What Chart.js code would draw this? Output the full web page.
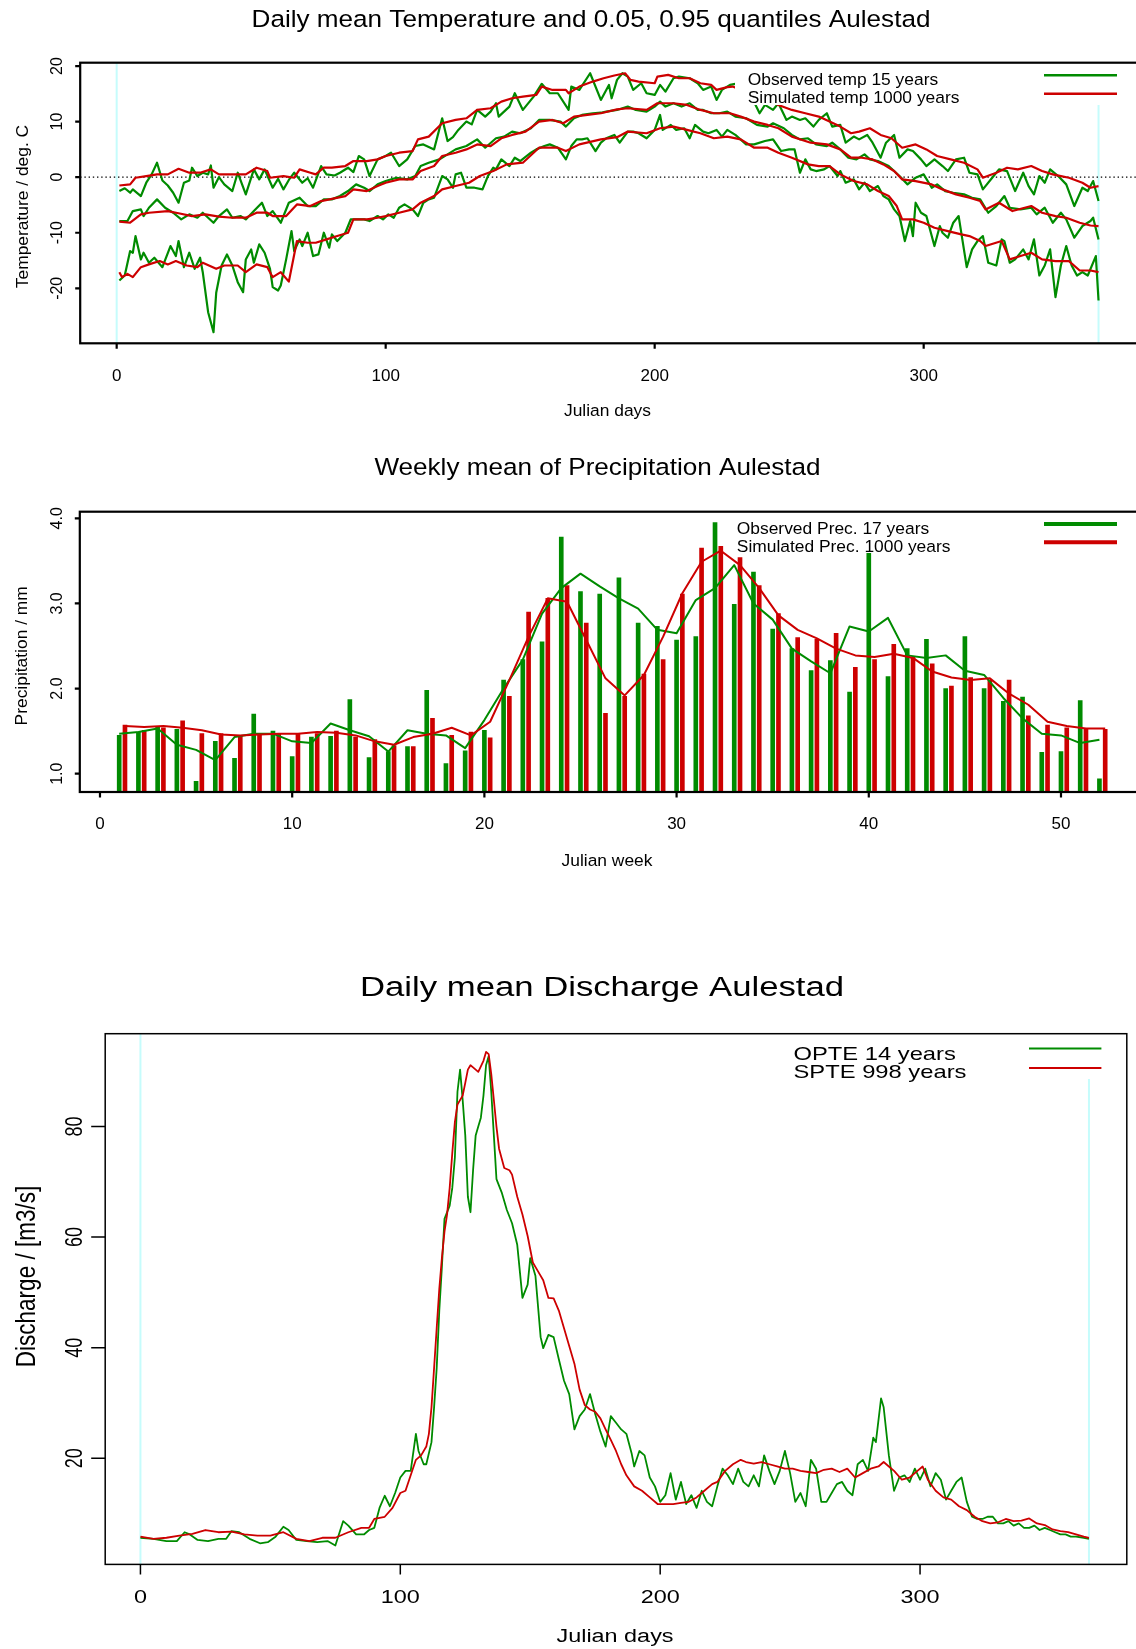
<!DOCTYPE html>
<html>
<head>
<meta charset="utf-8">
<script src="https://cdn.jsdelivr.net/npm/chart.js@4.4.1/dist/chart.umd.min.js"></script>
<style>
  html, body { margin: 0; padding: 0; background: #fff; }
  body { width: 1136px; height: 1649px; position: relative; overflow: hidden; }
  canvas { position: absolute; left: 0; }
</style>
</head>
<body>
<canvas id="temp" width="1200" height="440" style="top:0px"></canvas>
<canvas id="prec" width="1200" height="440" style="top:440px"></canvas>
<canvas id="disc" width="1136" height="769" style="top:880px"></canvas>
<script>
// ---- temperature, [julian day, deg C] ----
const obsHigh = [[1,-2.5],[3,-2],[5,-2.8],[6,-2.2],[9,-3.4],[11,-1],[13,0.5],[15,2.6],[17,-0.6],[19,-1.5],[21,-2.8],[23,-4.6],[25,-1],[27,-0.6],[28,1.7],[30,0.2],[32,0.8],[34,0.5],[35,2.1],[36,-1.9],[38,0],[40,-1.3],[43,-2.5],[45,0.8],[48,-3.1],[51,1.4],[53,-0.4],[55,1.4],[58,-1.9],[60,-0.3],[62,-2.2],[64,-0.5],[66,0.8],[69,-1],[71,-0.2],[73,-1.9],[76,2],[78,0.5],[81,0.3],[83,0.8],[86,1.7],[88,0.9],[90,3.8],[92,3.2],[94,0.2],[97,3.2],[100,3.8],[102,4.4],[105,2],[108,3.2],[111,5.6],[114,5.9],[118,5],[121,10.6],[123,6.5],[125,7.2],[127,8.5],[130,10],[132,9.5],[134,12.1],[137,10.9],[139,11.8],[141,13.3],[142,10.9],[146,12.7],[148,15.1],[151,12.1],[155,14.5],[158,16.8],[161,15.1],[164,15.1],[168,12.1],[169,16.3],[172,15.7],[176,18.7],[180,13.9],[183,16.6],[184,14.2],[186,17.5],[188,18.7],[190,18.1],[192,15.7],[195,16.9],[197,15.1],[200,14.8],[202,16.6],[204,15.4],[207,17.8],[209,18.1],[213,17.8],[216,16.9],[218,15.7],[221,16.3],[223,13.9],[225,15.7],[228,16.6],[230,16.8],[232,15.5],[235,14.2],[237,13.5],[239,11.5],[241,13],[244,12.1],[246,13.3],[249,10.3],[251,10.9],[254,10.3],[256,10.6],[259,9.1],[261,10.3],[264,11.5],[266,9.1],[269,9.4],[271,6.2],[274,7.3],[276,6.8],[279,7.6],[281,6.2],[284,3.5],[286,6.2],[289,7.6],[291,3.5],[294,5],[296,4.7],[299,3.2],[301,2],[304,3.2],[307,2],[309,1.1],[312,3.2],[315,3.5],[317,0.8],[320,0.5],[322,-2.2],[326,0.2],[328,1.4],[331,1.1],[334,-2.5],[337,0.8],[339,-1.6],[341,-3.1],[343,0.2],[345,-1],[347,1.4],[350,0.2],[353,-1.3],[356,-5.2],[359,-1.9],[361,-2.5],[363,-0.7],[365,-4.3]];
const simHigh = [[1,-1.5],[5,-1.3],[7,-0.1],[11,0.2],[15,0.5],[19,0.5],[23,1.5],[27,0.8],[31,0.8],[35,1.4],[38,0.5],[43,0.5],[48,0.5],[52,1.7],[56,1.1],[57,-0.1],[62,0.2],[66,-0.1],[68,1.4],[72,0.8],[74,0.5],[77,1.7],[80,1.7],[85,2],[88,2.9],[93,2.9],[97,3.2],[100,3.8],[105,4.4],[110,4.7],[112,6.8],[116,7.3],[121,9.7],[126,10.3],[130,10.6],[134,12.1],[139,12.4],[143,13.6],[147,14.2],[151,14.5],[156,14.8],[158,16.3],[162,15.7],[167,15.7],[168,15.1],[172,16.3],[177,17.2],[181,17.8],[185,18.3],[189,18.7],[191,17.5],[194,17.2],[200,16.9],[201,18.1],[205,18.4],[209,17.8],[213,17.8],[217,16.9],[221,16.6],[223,15.7],[227,16.2],[229,16.3],[233,15.5],[238,14.5],[242,13.8],[246,13],[251,12.1],[256,11.5],[261,10.9],[265,10],[269,9.1],[273,7.9],[276,8.2],[280,8.8],[284,7.6],[288,7],[292,5.3],[297,5.9],[301,5],[305,3.8],[310,3.2],[315,2.6],[320,1.4],[322,-0.1],[327,0.8],[331,1.7],[335,1.4],[340,2],[344,1.1],[348,0.5],[351,0.2],[354,-0.1],[359,-1],[362,-1.9],[365,-1.6]];
const obsMean = [[1,-7.9],[4,-7.9],[6,-6.1],[9,-5.8],[10,-7],[12,-5.5],[15,-4],[18,-5.5],[21,-6.4],[24,-7.6],[27,-6.7],[30,-7.3],[32,-6.4],[36,-8.2],[38,-7],[41,-5.8],[43,-7.3],[46,-7],[48,-7.6],[51,-6.1],[54,-4.6],[56,-7],[58,-6.1],[61,-8.2],[64,-4.6],[68,-3.7],[71,-5.2],[74,-5.2],[77,-4],[80,-4],[83,-3.4],[86,-2.5],[89,-1.3],[92,-1.9],[94,-2.5],[97,-1.3],[100,-0.7],[104,-0.1],[108,-0.4],[111,0.2],[113,2],[116,2.6],[120,3.2],[123,4.1],[126,5],[130,5.6],[134,6.8],[137,5.3],[141,7],[144,7.3],[147,8.2],[150,7.9],[154,8.8],[157,10.3],[161,10.3],[165,10],[167,9.1],[170,10.6],[173,11.2],[177,11.5],[180,11.6],[182,11.8],[186,12.1],[190,12.7],[193,12.1],[197,11.8],[200,12.7],[202,13.6],[204,12.7],[207,13.3],[210,12.7],[213,13.3],[216,12.1],[218,12.1],[221,11.5],[224,11.5],[227,11.8],[230,10.9],[234,10.6],[238,9.4],[242,9.1],[244,9.7],[248,8.8],[251,7.6],[254,6.8],[257,7],[260,5.9],[264,5.6],[266,6.2],[269,5],[272,3.5],[275,3.2],[278,4.1],[280,3.2],[283,2.9],[287,2],[289,1.1],[291,0.2],[294,-1.3],[297,-0.1],[300,0.5],[303,-1.9],[305,-1.3],[308,-2.5],[311,-2.8],[315,-3.1],[318,-3.7],[321,-4],[324,-6.4],[327,-5.2],[330,-3.4],[332,-5.5],[336,-5.8],[340,-5.5],[342,-6.7],[345,-5.5],[348,-8.2],[351,-6.4],[353,-7.6],[356,-10.9],[359,-8.8],[362,-7.9],[363,-7.3],[365,-11.2]];
const simMean = [[1,-8],[5,-8.2],[9,-6.7],[12,-6.4],[19,-6.1],[23,-6.5],[28,-7],[33,-6.7],[38,-7.1],[43,-7.3],[48,-7.3],[52,-6.4],[56,-6.4],[58,-7],[63,-7],[67,-4.9],[72,-5.2],[76,-4.3],[80,-3.9],[85,-3.4],[88,-2.2],[93,-2.5],[97,-1.6],[100,-1],[105,-0.4],[110,-0.4],[113,1.1],[118,2],[121,3.8],[126,4.4],[130,5],[134,5.9],[139,5.6],[143,7],[147,7.6],[152,8.2],[157,10],[162,10.3],[166,9.7],[170,10.9],[175,11.2],[180,11.5],[186,12.2],[190,12.4],[197,12.1],[201,13.3],[207,13.3],[212,13],[217,12.1],[222,11.5],[228,11.5],[232,10.9],[237,10],[242,9.4],[246,8.8],[251,7.3],[258,6.2],[264,5.9],[269,5],[273,3.5],[277,3.5],[281,3.2],[285,2.3],[289,1.1],[292,-0.4],[297,-0.7],[303,-1.3],[307,-2.2],[312,-3.1],[317,-3.7],[321,-4.3],[323,-5.8],[328,-4.6],[333,-6.1],[340,-5.2],[344,-6.4],[349,-7],[353,-7.3],[358,-8.2],[362,-8.7],[365,-8.8]];
const obsLow = [[1,-18.6],[3,-17.7],[5,-13.3],[6,-13.6],[7,-10.6],[9,-14.8],[10,-13.6],[12,-15.4],[14,-14.5],[17,-16.2],[20,-12.4],[22,-14.2],[23,-11.5],[25,-16.2],[27,-13.6],[29,-16.5],[31,-14.5],[32,-17.1],[34,-24.3],[36,-27.9],[37,-20.8],[39,-15.9],[41,-13.9],[43,-15.9],[45,-18.9],[47,-20.7],[48,-14.8],[50,-13],[51,-15.4],[53,-12.1],[55,-13.6],[57,-16.5],[58,-19.8],[60,-20.4],[61,-19.5],[63,-14.8],[65,-9.7],[66,-13.3],[68,-11.2],[69,-12.4],[71,-10],[73,-14.2],[75,-13.9],[77,-10],[79,-12.7],[80,-10.3],[82,-11.5],[85,-10],[87,-7.6],[89,-7.6],[92,-7.6],[94,-7.9],[97,-7],[99,-7.6],[101,-6.7],[103,-7.3],[105,-5.5],[107,-4.9],[110,-5.8],[112,-7],[114,-4.6],[116,-4],[118,-3.7],[121,0.2],[123,-0.4],[125,-1.9],[126,0.5],[128,0.8],[130,-1.9],[133,-1.9],[136,-2.2],[138,0.2],[140,1.7],[141,1.4],[143,3.2],[146,2],[148,3.5],[150,2.9],[154,4.4],[156,5],[159,5.6],[161,5.9],[164,5.3],[167,3.2],[169,5.6],[171,6.8],[173,6.8],[175,7],[178,4.7],[180,6.2],[182,7],[185,7.6],[187,6.2],[190,8.2],[192,8.2],[194,7.9],[197,7],[200,8.5],[202,11.2],[203,8.5],[206,9.4],[208,8.5],[211,8.8],[213,7],[215,9.4],[218,8.2],[220,7.9],[223,8.5],[225,7.3],[227,8.5],[230,7.6],[234,5.9],[237,5.9],[241,6.5],[244,6.8],[247,4.7],[250,5],[252,5],[254,0.8],[256,3.2],[258,1.4],[260,1.1],[263,1.4],[265,2],[268,0.2],[269,1.1],[271,-1],[274,-0.4],[276,-2.2],[278,-1],[280,-2.5],[283,-1.6],[285,-3.4],[287,-4],[289,-5.8],[291,-7],[293,-11.5],[295,-7.9],[296,-10.6],[297,-4.6],[299,-6.4],[301,-7],[304,-12.4],[306,-8.8],[307,-10],[309,-10.9],[311,-8.2],[313,-7],[316,-16.2],[318,-13],[320,-11.5],[322,-10.6],[324,-15.4],[327,-15.9],[329,-11.2],[330,-11.5],[332,-15.4],[334,-14.8],[337,-13],[339,-14.8],[341,-11.2],[343,-17.7],[345,-15.9],[347,-13],[349,-21.6],[351,-15.9],[353,-12.4],[355,-15.9],[357,-17.7],[359,-17.1],[361,-17.7],[364,-14.2],[365,-22.2]];
const simLow = [[1,-17.1],[2,-18],[4,-17.4],[6,-18],[9,-16.2],[12,-15.7],[16,-15.1],[19,-15.7],[22,-15.1],[26,-15.9],[30,-16.2],[32,-15.4],[37,-16.5],[40,-15.9],[45,-15.9],[48,-17.1],[52,-15.7],[56,-16.2],[58,-18],[61,-17.1],[64,-18.8],[67,-11.5],[71,-11.8],[74,-11.8],[78,-11.2],[82,-10.6],[86,-10],[88,-7.6],[93,-7.6],[97,-7.3],[100,-7],[105,-6.4],[110,-5.8],[113,-4.6],[118,-3.4],[121,-2.2],[126,-1.6],[131,-1],[135,0.2],[140,1.1],[145,2.3],[151,2.6],[157,5.3],[164,5.3],[167,4.7],[172,5.9],[180,6.8],[186,7.2],[190,8.2],[197,7.9],[202,8.8],[207,9.1],[212,8.5],[217,7.9],[222,7],[227,7.3],[232,6.8],[237,5.3],[242,5.3],[246,4.4],[251,3.5],[257,2.3],[261,2],[265,2],[269,0.5],[274,-0.7],[279,-1.3],[283,-2.5],[287,-3.4],[290,-5.2],[292,-7.6],[296,-7.6],[300,-8.2],[304,-9.1],[309,-9.7],[314,-10.3],[317,-10.6],[321,-11.5],[323,-12.4],[329,-11.5],[332,-14.8],[336,-14.2],[340,-13.6],[344,-14.8],[349,-15.1],[354,-15.1],[358,-16.8],[362,-16.8],[365,-17.1]];
const tempXTicks = [0, 100, 200, 300];
const tempYTicks = [-20, -10, 0, 10, 20];

// ---- precipitation, weekly mean mm ----
const weeks = [1,2,3,4,5,6,7,8,9,10,11,12,13,14,15,16,17,18,19,20,21,22,23,24,25,26,27,28,29,30,31,32,33,34,35,36,37,38,39,40,41,42,43,44,45,46,47,48,49,50,51,52];
const obsPrec = [1.45,1.49,1.55,1.52,0.91,1.38,1.18,1.70,1.50,1.20,1.43,1.44,1.87,1.19,1.26,1.32,1.98,1.12,1.27,1.51,2.10,2.34,2.55,3.78,3.14,3.11,3.30,2.77,2.73,2.57,2.61,3.95,2.99,3.37,2.70,2.47,2.21,2.33,1.96,3.59,2.14,2.47,2.58,2.00,2.61,2.00,1.85,1.90,1.25,1.26,1.86,0.94];
const simPrec = [1.57,1.51,1.54,1.62,1.47,1.47,1.45,1.47,1.47,1.47,1.47,1.50,1.43,1.40,1.33,1.32,1.65,1.45,1.49,1.42,1.91,2.90,3.06,3.21,2.77,1.71,1.91,2.17,2.34,3.11,3.65,3.67,3.54,3.21,2.88,2.60,2.58,2.65,2.25,2.34,2.52,2.37,2.29,2.03,2.13,2.10,2.10,1.68,1.57,1.54,1.53,1.52];
const obsPrecSmooth = [1.47,1.49,1.53,1.34,1.28,1.16,1.43,1.47,1.47,1.38,1.36,1.59,1.51,1.44,1.26,1.51,1.47,1.45,1.30,1.63,2.00,2.34,2.88,3.18,3.35,3.20,3.06,2.94,2.69,2.65,3.04,3.18,3.45,3.00,2.81,2.47,2.32,2.18,2.73,2.67,2.83,2.39,2.36,2.39,2.21,2.16,1.89,1.65,1.47,1.45,1.36,1.40];
const simPrecSmooth = [1.56,1.55,1.56,1.54,1.51,1.46,1.45,1.46,1.47,1.47,1.49,1.48,1.45,1.38,1.34,1.43,1.47,1.54,1.45,1.61,2.10,2.61,3.06,3.02,2.57,2.12,1.92,2.16,2.61,3.12,3.49,3.62,3.45,3.18,2.86,2.69,2.59,2.47,2.39,2.37,2.41,2.36,2.20,2.13,2.10,2.12,1.94,1.81,1.61,1.56,1.53,1.53];
const precXTicks = [0, 10, 20, 30, 40, 50];
const precYTicks = [1, 2, 3, 4];

// ---- discharge, [julian day, m3/s] ----
const obsQ = [[0,5.6],[5,5.4],[10,5],[14,5],[17,6.6],[19,6.2],[22,5.2],[26,5],[30,5.4],[33,5.4],[35,6.8],[38,6.6],[42,5.4],[46,4.6],[49,4.8],[52,5.8],[55,7.6],[57,7],[60,5.2],[64,5],[68,4.8],[72,5],[75,4.2],[78,8.6],[80,7.8],[83,6.2],[86,6.2],[88,7],[90,7.4],[92,11],[94,13.2],[96,11.3],[98,13.7],[100,16.5],[102,17.7],[104,17.7],[106,24.4],[107,21.3],[109,18.9],[110,18.9],[112,22.9],[113,29.2],[114,36.3],[115,46.7],[116,54.6],[117,63.3],[119,65.7],[120,68.9],[121,74.4],[122,86.3],[123,90.3],[124,84.8],[125,78.4],[126,67.3],[127,64.5],[128,72.1],[129,78.4],[130,80],[131,81.6],[132,85.6],[133,91.1],[134,92.7],[135,86.3],[136,78.4],[137,70.5],[139,68.1],[141,64.9],[143,62.5],[145,58.6],[147,49],[149,51.4],[150,56.2],[152,53],[154,41.9],[155,39.9],[157,42.3],[159,41.9],[161,37.9],[163,34],[165,31.6],[167,25.2],[169,27.6],[171,28.8],[173,31.6],[175,28],[177,24.8],[179,22.1],[181,27.6],[183,26.4],[185,25.2],[187,24.4],[189,20.9],[190,18.5],[192,21.3],[194,20.5],[196,16.5],[198,14.9],[200,12.1],[202,13.3],[204,17.3],[206,12.5],[208,15.7],[210,11.7],[212,13.3],[214,11],[216,14.1],[218,12.1],[220,11.3],[222,14.9],[224,18.1],[226,16.9],[228,15.3],[230,18.1],[232,15.7],[234,14.9],[236,16.9],[238,14.9],[240,20.5],[242,17.7],[244,15.3],[246,17.7],[248,21.3],[250,17.3],[252,12.1],[254,13.7],[256,11.3],[258,19.7],[260,18.1],[262,12.1],[264,12.1],[266,13.7],[268,15.3],[270,15.7],[272,14.1],[274,13.3],[276,18.9],[278,19.7],[280,17.7],[282,23.7],[283,22.9],[285,30.8],[286,29.2],[288,20.5],[290,14.1],[292,16.5],[294,16.9],[296,15.7],[298,18.1],[300,16.1],[302,18.1],[304,14.9],[306,17.3],[308,16.1],[310,12.5],[312,14.1],[314,15.7],[316,16.5],[318,12.1],[320,9.4],[322,9],[324,9],[326,9.4],[328,9.4],[330,8.2],[332,8.2],[334,8.6],[336,7.8],[338,8.2],[340,7.4],[342,7.4],[344,7.8],[346,7],[348,7.4],[350,7],[352,6.6],[354,6.2],[356,6.2],[358,5.8],[360,5.8],[363,5.6],[365,5.4]];
const simQ = [[0,5.8],[5,5.4],[10,5.6],[15,6],[20,6.3],[25,7],[30,6.6],[35,6.7],[40,6.2],[45,6],[50,6],[55,6.6],[60,5.4],[65,5],[70,5.6],[75,5.6],[80,6.6],[85,7.4],[88,7.4],[90,9],[94,9.4],[97,11],[100,13.7],[102,14.1],[104,16.9],[106,19.7],[108,20.5],[110,22.1],[111,24.4],[112,29.2],[113,36.3],[114,43.5],[115,50.6],[116,56.2],[117,61],[118,64.1],[119,68.9],[120,75.2],[121,80.8],[122,84],[124,85.6],[125,87.9],[126,90.3],[127,91.1],[128,90.7],[130,89.9],[132,91.9],[133,93.5],[134,93.1],[135,89.5],[136,84.8],[137,80],[138,76],[140,72.5],[142,72.1],[143,71.3],[145,67.3],[147,64.1],[149,60.2],[151,55.4],[153,53.8],[155,52.2],[157,49],[159,48.9],[161,46.7],[163,43.5],[165,40.3],[167,37.1],[169,32.4],[171,29.6],[173,28.8],[175,28.4],[177,27.2],[179,25.2],[181,23.3],[183,21.3],[185,18.9],[187,16.9],[190,14.9],[193,14.1],[196,12.9],[199,11.7],[202,11.7],[205,11.7],[208,11.9],[211,12.1],[214,12.9],[217,14.1],[220,15.3],[222,15.7],[225,17.7],[228,18.9],[231,19.7],[233,19.3],[236,19],[239,19.3],[242,18.9],[245,18.5],[248,18.1],[251,18.1],[254,17.7],[257,17.5],[260,17.3],[263,17.9],[266,18.1],[269,17.5],[272,18.1],[275,16.5],[278,17.3],[281,18.1],[284,18.5],[286,19.3],[288,18.5],[290,17.7],[293,16.1],[296,16.5],[299,17.7],[301,18.5],[303,16.1],[306,14.1],[309,12.9],[312,12.5],[315,11.3],[318,10.6],[321,9.4],[324,8.6],[327,8.2],[330,8.4],[333,9],[336,8.6],[339,8.7],[342,9.1],[345,8.2],[348,7.9],[351,7.1],[354,6.8],[357,6.6],[360,6.2],[363,5.8],[365,5.6]];
const discXTicks = [0, 100, 200, 300];
const discYTicks = [20, 40, 60, 80];

const GREEN = '#008b00';
const RED = '#cd0000';
const CYAN = '#c6fcfc';
const FONT = '"Liberation Sans", Arial, Helvetica, sans-serif';

function text(ctx, s, x, y, size, opt) {
  opt = opt || {};
  ctx.save();
  ctx.translate(x, y);
  ctx.scale(opt.sx || 1, 1);
  if (opt.rot) ctx.rotate(opt.rot);
  ctx.font = size + 'px ' + FONT;
  ctx.textAlign = opt.align || 'center';
  ctx.textBaseline = 'alphabetic';
  ctx.fillStyle = '#000';
  ctx.fillText(s, 0, 0);
  ctx.restore();
}

// R-like frame: box, outward ticks, rotated y labels, titles, legend
const rFrame = {
  id: 'rFrame',
  beforeDatasetsDraw(chart, args, o) {
    const { ctx, chartArea: a, scales: { x, y } } = chart;
    ctx.save();
    (o.guides || []).forEach(d => {
      const px = x.getPixelForValue(d);
      ctx.strokeStyle = CYAN;
      ctx.lineWidth = 2;
      ctx.beginPath();
      ctx.moveTo(px, a.top);
      ctx.lineTo(px, a.bottom);
      ctx.stroke();
    });
    if (o.zeroLine) {
      const py = y.getPixelForValue(0);
      ctx.strokeStyle = '#000';
      ctx.lineWidth = 1.4;
      ctx.setLineDash([1.4, 2.8]);
      ctx.beginPath();
      ctx.moveTo(a.left, py);
      ctx.lineTo(a.right, py);
      ctx.stroke();
    }
    ctx.restore();
  },
  afterDatasetsDraw(chart, args, o) {
    const { ctx, chartArea: a, scales: { x, y } } = chart;
    ctx.save();
    // legend sits on a white patch that hides the curves under it
    const lg = o.legend;
    ctx.fillStyle = '#fff';
    ctx.fillRect(lg.bg[0], a.top, lg.bg[1] - lg.bg[0], lg.bg[2] - a.top);
    lg.items.forEach(it => {
      ctx.strokeStyle = it.color;
      ctx.lineWidth = lg.lw;
      ctx.beginPath();
      ctx.moveTo(lg.line[0], it.ly);
      ctx.lineTo(lg.line[1], it.ly);
      ctx.stroke();
      text(ctx, it.text, lg.textX, it.ty, lg.size, { align: 'left', sx: lg.sx });
    });

    ctx.strokeStyle = '#000';
    ctx.lineWidth = o.lw;
    ctx.strokeRect(a.left, a.top, a.right - a.left, a.bottom - a.top);
    ctx.beginPath();
    o.xTicks.forEach(v => {
      const px = x.getPixelForValue(v);
      ctx.moveTo(px, a.bottom);
      ctx.lineTo(px, a.bottom + o.xTickLen);
    });
    o.yTicks.forEach(v => {
      const py = y.getPixelForValue(v);
      ctx.moveTo(a.left, py);
      ctx.lineTo(a.left - o.yTickLen, py);
    });
    ctx.stroke();

    const fx = o.fmtX || String;
    const fy = o.fmtY || String;
    o.xTicks.forEach(v => text(ctx, fx(v), x.getPixelForValue(v), o.xLabelY, o.tick, { sx: o.sx }));
    o.yTicks.forEach(v => text(ctx, fy(v), o.yLabelX, y.getPixelForValue(v), o.yTick || o.tick, { sx: o.sx, rot: -Math.PI / 2 }));

    const t = o.title;
    text(ctx, t.text, t.x, t.y, t.size, { sx: t.sx });
    text(ctx, o.xTitle.text, o.xTitle.x, o.xTitle.y, o.xTitle.size, { sx: o.sx });
    text(ctx, o.yTitle.text, o.yTitle.x, o.yTitle.y, o.yTitle.size, { sx: o.yTitle.sx || 1, rot: -Math.PI / 2 });
    ctx.restore();
  }
};

function line(points, color, width, order) {
  return {
    type: 'line',
    data: points.map(p => ({ x: p[0], y: p[1] })),
    borderColor: color,
    borderWidth: width,
    borderJoinStyle: 'round',
    pointRadius: 0,
    fill: false,
    tension: 0,
    order: order
  };
}

const common = {
  responsive: false,
  animation: false,
  events: []
};

// ---- panel 1: temperature ----
new Chart(document.getElementById('temp'), {
  type: 'line',
  data: {
    datasets: [
      line(obsHigh, GREEN, 2.2, 2), line(obsMean, GREEN, 2.2, 2), line(obsLow, GREEN, 2.2, 2),
      line(simHigh, RED, 2.2, 1), line(simMean, RED, 2.2, 1), line(simLow, RED, 2.2, 1)
    ]
  },
  options: Object.assign({}, common, {
    layout: { padding: { left: 80.2, right: 62.3, top: 62.7, bottom: 96.7 } },
    scales: {
      x: { type: 'linear', display: false, min: -13.56, max: 379.56 },
      y: { type: 'linear', display: false, min: -29.9, max: 20.6 }
    },
    plugins: {
      legend: { display: false },
      tooltip: { enabled: false },
      rFrame: {
        lw: 2.2, xTicks: tempXTicks, yTicks: tempYTicks, xTickLen: 5.5, yTickLen: 5,
        tick: 17, yTick: 16, xLabelY: 380.7, yLabelX: 62,
        guides: [0, 365], zeroLine: true,
        title: { text: 'Daily mean Temperature and 0.05, 0.95 quantiles Aulestad', x: 591, y: 26.7, size: 24.5, sx: 1.065 },
        xTitle: { text: 'Julian days', x: 607.5, y: 415.5, size: 17.4 },
        yTitle: { text: 'Temperature / deg. C', x: 27.5, y: 206.5, size: 17.4 },
        legend: {
          bg: [735, 1200, 105], line: [1044, 1117], lw: 2.5, textX: 747.7, size: 17.4,
          items: [
            { text: 'Observed temp 15 years', color: GREEN, ly: 75.2, ty: 85 },
            { text: 'Simulated temp 1000 years', color: RED, ly: 93.8, ty: 102.7 }
          ]
        }
      }
    }
  }),
  plugins: [rFrame]
});

// ---- panel 2: precipitation ----
function bars(vals, shift, color, order) {
  return {
    type: 'bar',
    data: weeks.map((w, i) => ({ x: w + shift, y: vals[i] })),
    backgroundColor: color,
    barThickness: 4,
    grouped: false,
    clip: 0,
    order: order
  };
}
new Chart(document.getElementById('prec'), {
  type: 'bar',
  data: {
    datasets: [
      bars(obsPrec, 0, GREEN, 4),
      bars(simPrec, 0.3, RED, 3),
      line(weeks.map((w, i) => [w, obsPrecSmooth[i]]), GREEN, 2, 2),
      line(weeks.map((w, i) => [w + 0.3, simPrecSmooth[i]]), RED, 2, 1)
    ]
  },
  options: Object.assign({}, common, {
    layout: { padding: { left: 79.8, right: 55.4, top: 71.7, bottom: 88 } },
    scales: {
      x: { type: 'linear', display: false, offset: false, min: -1.05, max: 54.35 },
      y: { type: 'linear', display: false, min: 0.785, max: 4.078 }
    },
    plugins: {
      legend: { display: false },
      tooltip: { enabled: false },
      rFrame: {
        lw: 2.2, xTicks: precXTicks, yTicks: precYTicks, xTickLen: 5.5, yTickLen: 5,
        fmtY: v => v.toFixed(1),
        tick: 17, yTick: 16, xLabelY: 389.3, yLabelX: 62,
        title: { text: 'Weekly mean of Precipitation Aulestad', x: 597.5, y: 35, size: 24.5, sx: 1.065 },
        xTitle: { text: 'Julian week', x: 607, y: 426, size: 17.4 },
        yTitle: { text: 'Precipitation / mm', x: 27, y: 215.8, size: 17.4 },
        legend: {
          bg: [733, 1200, 112], line: [1044, 1117], lw: 4, textX: 736.8, size: 17.4,
          items: [
            { text: 'Observed Prec. 17 years', color: GREEN, ly: 84, ty: 94.3 },
            { text: 'Simulated Prec. 1000 years', color: RED, ly: 102.3, ty: 112.3 }
          ]
        }
      }
    }
  }),
  plugins: [rFrame]
});

// ---- panel 3: discharge ----
new Chart(document.getElementById('disc'), {
  type: 'line',
  data: {
    datasets: [line(obsQ, GREEN, 1.8, 2), line(simQ, RED, 1.8, 1)]
  },
  options: Object.assign({}, common, {
    layout: { padding: { left: 105.2, right: 9.2, top: 153.7, bottom: 84.6 } },
    scales: {
      x: { type: 'linear', display: false, min: -13.56, max: 379.56 },
      y: { type: 'linear', display: false, min: 0.78, max: 96.8 }
    },
    plugins: {
      legend: { display: false },
      tooltip: { enabled: false },
      rFrame: {
        lw: 1.5, xTicks: discXTicks, yTicks: discYTicks, xTickLen: 10, yTickLen: 14,
        tick: 18, sx: 1.3, xLabelY: 723.3, yLabelX: 82,
        guides: [0, 365],
        title: { text: 'Daily mean Discharge Aulestad', x: 602, y: 116, size: 27, sx: 1.285 },
        xTitle: { text: 'Julian days', x: 615, y: 762, size: 18 },
        yTitle: { text: 'Discharge / [m3/s]', x: 35, y: 396.5, size: 22.5, sx: 1.25 },
        legend: {
          bg: [785, 1126, 199], line: [1029, 1101.4], lw: 2, textX: 793.5, size: 19, sx: 1.25,
          items: [
            { text: 'OPTE 14 years', color: GREEN, ly: 168.6, ty: 179.6 },
            { text: 'SPTE 998 years', color: RED, ly: 187.9, ty: 198.4 }
          ]
        }
      }
    }
  }),
  plugins: [rFrame]
});
</script>
</body>
</html>
